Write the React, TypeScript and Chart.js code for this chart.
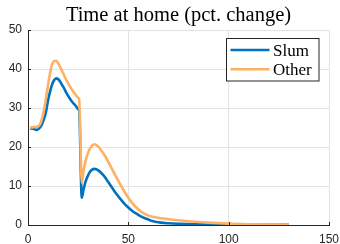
import React, { useEffect, useRef } from 'react';
import { Chart, registerables } from 'chart.js';

Chart.register(...registerables);

const titleText = 'Time at home (pct. change)';
const seriesNames = ['Slum', 'Other'];
const seriesColors = ['#0072BD', '#FDB165'];
const xTicks = [0, 50, 100, 150];
const yTicks = [0, 10, 20, 30, 40, 50];

const days = [
  1, 3, 4.5, 6, 7, 8, 9, 10, 11, 12, 13, 14, 15, 16, 17, 18, 19, 20, 21, 22, 23, 24, 25, 25.5,
  26.8, 27.5, 28, 29, 30, 31, 32, 33, 34, 35, 36, 38, 40, 42, 44, 46, 48, 50, 52, 54, 56, 58,
  60, 62, 64, 66, 70, 75, 80, 90, 100, 110, 120, 130,
];

const slum = [
  24.8, 24.6, 24.4, 25.0, 25.9, 27.2, 29.1, 32.0, 34.2, 36.0, 37.1, 37.6, 37.4, 36.8, 35.9,
  35.0, 34.0, 33.1, 32.3, 31.6, 31.0, 30.4, 29.7, 29.4,
  7.0, 8.6, 9.8, 11.6, 12.8, 13.7, 14.2, 14.4, 14.3, 14.0, 13.6, 12.5, 11.0, 9.5, 8.0, 6.7,
  5.5, 4.5, 3.6, 2.9, 2.3, 1.8, 1.4, 1.0, 0.75, 0.6, 0.45, 0.33, 0.25, 0.14, 0.08, 0.05, 0.03, 0.02,
];

const other = [
  25.0, 25.1, 25.2, 25.8, 27.3, 29.6, 32.6, 36.0, 39.0, 41.2, 42.0, 42.1, 41.5, 40.5, 39.5,
  38.4, 37.3, 36.3, 35.4, 34.6, 33.9, 33.2, 32.6, 32.2,
  10.8, 13.2, 14.8, 17.0, 18.6, 19.7, 20.4, 20.7, 20.5, 20.1, 19.5, 18.0, 16.2, 14.2, 12.3,
  10.4, 8.6, 7.0, 5.6, 4.5, 3.6, 2.9, 2.4, 2.1, 1.9, 1.75, 1.5, 1.2, 0.95, 0.6, 0.35, 0.2, 0.1, 0.05,
];

const axisColor = '#262626';
const gridColor = '#e3e3e3';
const tickFont = { family: '"Liberation Sans", Arial, sans-serif', size: 12 };

const overlay = {
  id: 'overlay',
  afterDraw(chart: any) {
    const ctx = chart.ctx as CanvasRenderingContext2D;
    const { left, right, top, bottom } = chart.chartArea;
    const xs = chart.scales.x;
    const ys = chart.scales.y;
    ctx.save();
    // inward tick marks
    ctx.strokeStyle = axisColor;
    ctx.lineWidth = 1;
    ctx.beginPath();
    yTicks.forEach((v) => {
      const y = Math.round(ys.getPixelForValue(v)) + 0.5;
      ctx.moveTo(left, y);
      ctx.lineTo(left + 3, y);
    });
    xTicks.forEach((v) => {
      const x = Math.round(xs.getPixelForValue(v)) + 0.5;
      ctx.moveTo(x, bottom);
      ctx.lineTo(x, bottom - 3);
    });
    ctx.stroke();

    // title
    ctx.fillStyle = '#000';
    ctx.font = '20.5px "Liberation Serif", "Times New Roman", serif';
    ctx.textAlign = 'center';
    ctx.textBaseline = 'alphabetic';
    ctx.fillText(titleText, (left + right) / 2, top - 9);

    // legend
    const bx = right - 103 + 0.5;
    const by = top + 8.5;
    const bw = 92.5;
    const bh = 42.5;
    ctx.fillStyle = '#fff';
    ctx.fillRect(bx, by, bw, bh);
    ctx.strokeStyle = axisColor;
    ctx.lineWidth = 1;
    ctx.strokeRect(bx, by, bw, bh);
    ctx.font = '17px "Liberation Serif", "Times New Roman", serif';
    ctx.textAlign = 'left';
    seriesNames.forEach((name, i) => {
      const ly = by + 11.5 + i * 19.3;
      ctx.strokeStyle = seriesColors[i];
      ctx.lineWidth = 2.6;
      ctx.beginPath();
      ctx.moveTo(bx + 4, ly);
      ctx.lineTo(bx + 43, ly);
      ctx.stroke();
      ctx.fillStyle = '#000';
      ctx.fillText(name, bx + 46.5, ly + 5.5);
    });
    ctx.restore();
  },
};

export default function App() {
  const ref = useRef<HTMLCanvasElement | null>(null);
  useEffect(() => {
    document.body.style.margin = '0';
    const canvas = ref.current;
    if (!canvas) return;
    const chart = new Chart(canvas, {
      type: 'line',
      data: {
        datasets: [
          {
            label: seriesNames[0],
            data: days.map((d, i) => ({ x: d, y: slum[i] })),
            borderColor: seriesColors[0],
            backgroundColor: seriesColors[0],
            borderWidth: 2.6,
            pointRadius: 0,
            cubicInterpolationMode: 'monotone',
            borderJoinStyle: 'round',
            order: 2,
          },
          {
            label: seriesNames[1],
            data: days.map((d, i) => ({ x: d, y: other[i] })),
            borderColor: seriesColors[1],
            backgroundColor: seriesColors[1],
            borderWidth: 2.6,
            pointRadius: 0,
            cubicInterpolationMode: 'monotone',
            borderJoinStyle: 'round',
            order: 1,
          },
        ],
      },
      options: {
        responsive: false,
        animation: false,
        layout: { padding: { top: 30, right: 11, left: 0, bottom: 0 } },
        plugins: {
          legend: { display: false },
          title: { display: false },
          tooltip: { enabled: false },
        },
        scales: {
          x: {
            type: 'linear',
            min: 0,
            max: 150,
            afterBuildTicks: (s: any) => {
              s.ticks = xTicks.map((v) => ({ value: v }));
            },
            afterFit: (s: any) => {
              s.height = 19;
              s.paddingLeft = 0;
              s.paddingRight = 0;
            },
            ticks: { font: tickFont, color: axisColor, padding: 7, maxRotation: 0 },
            grid: { color: gridColor, drawTicks: false, lineWidth: 1 },
            border: { display: true, color: axisColor, width: 1 },
          },
          y: {
            type: 'linear',
            min: 0,
            max: 50,
            afterBuildTicks: (s: any) => {
              s.ticks = yTicks.map((v) => ({ value: v }));
            },
            afterFit: (s: any) => {
              s.width = 28;
              s.paddingTop = 0;
              s.paddingBottom = 0;
            },
            ticks: { font: tickFont, color: axisColor, padding: 6 },
            grid: { color: gridColor, drawTicks: false, lineWidth: 1 },
            border: { display: true, color: axisColor, width: 1 },
          },
        },
      } as any,
      plugins: [overlay],
    });
    return () => chart.destroy();
  }, []);
  return (
    <div style={{ position: 'fixed', left: 0, top: 0, width: 340, height: 244, background: '#fff' }}>
      <canvas ref={ref} width={340} height={244} style={{ display: 'block' }} />
    </div>
  );
}
